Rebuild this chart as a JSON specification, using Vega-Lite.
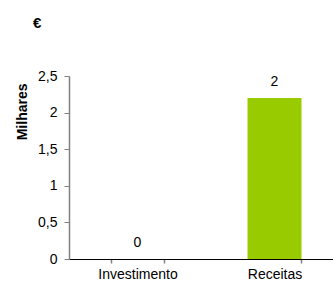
{
  "$schema": "https://vega.github.io/schema/vega-lite/v6.json",
  "autosize": {"type": "none"},
  "padding": {"left": 69, "top": 76, "right": 0, "bottom": 24},
  "width": 274,
  "height": 183,
  "background": "white",
  "title": {"text": "€", "anchor": "start", "frame": "group", "fontSize": 15, "fontWeight": "bold", "font": "Liberation Sans", "color": "black", "dx": -36, "offset": 38},
  "config": {"view": {"stroke": null}, "font": "Liberation Sans"},
  "data": {"values": [
    {"categoria": "Investimento", "valor": 0, "rotulo": "0"},
    {"categoria": "Receitas", "valor": 2.2, "rotulo": "2"}
  ]},
  "encoding": {
    "x": {"field": "categoria", "type": "nominal", "sort": null,
      "scale": {"paddingInner": 0.606, "paddingOuter": 0.303},
      "axis": {"title": null, "labelAngle": 0, "labelFontSize": 14, "labelColor": "black", "labelPadding": 4,
        "domainColor": "black", "domainWidth": 1, "tickBand": "extent", "tickColor": "#808080", "tickSize": 4, "tickWidth": 1.5}},
    "y": {"field": "valor", "type": "quantitative",
      "scale": {"domain": [0, 2.5]},
      "axis": {"title": "Milhares", "titleFontSize": 14, "titleFontWeight": "bold", "titleColor": "black", "titlePadding": 8,
        "titleAnchor": "end", "titleAlign": "right", "titleY": 7,
        "values": [0, 0.5, 1, 1.5, 2, 2.5], "format": ",.1~f", "formatType": "number",
        "labelExpr": "replace(datum.label, '.', ',')",
        "labelFontSize": 14, "labelColor": "black", "labelPadding": 7,
        "grid": false, "domainColor": "#808080", "domainWidth": 1.5, "tickColor": "#808080", "tickSize": 5, "tickWidth": 1}}
  },
  "layer": [
    {"mark": {"type": "bar", "color": "#99CC00"}},
    {"mark": {"type": "text", "dy": -16, "fontSize": 14, "color": "black", "font": "Liberation Sans"},
      "encoding": {"text": {"field": "rotulo"}}}
  ]
}
